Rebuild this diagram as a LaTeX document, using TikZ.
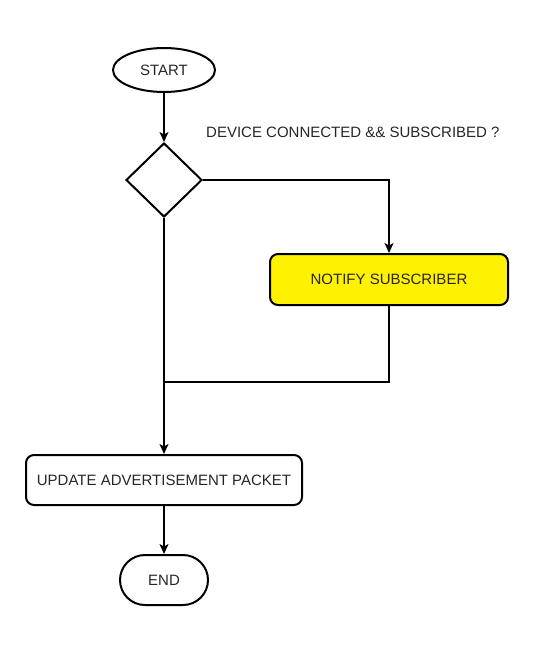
\documentclass[tikz,border=0pt]{standalone}
\usepackage{fontspec}
\setmainfont{Liberation Sans}
\usepackage{tikz}
\usetikzlibrary{shapes.geometric,arrows.meta,positioning,calc}

\begin{document}
\begin{tikzpicture}[
    x=1pt, y=1pt,
    font=\fontsize{15}{18}\selectfont,
    text=black!85,
    >={Stealth[length=10pt,width=9pt,inset=2.5pt]},
    % --- node styles ---
    terminal/.style = {ellipse, draw=black, line width=2pt,
                       inner sep=0pt},
    stadium/.style  = {rectangle, draw=black, line width=2pt,
                       rounded corners=25pt, inner sep=0pt},
    decision/.style = {diamond, draw=black, line width=2pt,
                       inner sep=0pt, minimum width=76pt,
                       minimum height=74pt},
    process/.style  = {rectangle, draw=black, line width=2pt,
                       rounded corners=8pt, inner sep=0pt,
                       minimum height=50pt},
    note/.style     = {inner sep=0pt, anchor=south west},
    arrow/.style    = {->, line width=1.2pt},
    conn/.style     = {line width=1.2pt},
]

\useasboundingbox (0,0) rectangle (537,-655);

%============ START ============
\node (start) [terminal, minimum width=102pt, minimum height=44pt]
  at (164,-70) {START};

%============ DECISION ============
\node (check) [decision, below=49pt of start] {};

\node (question) [note, above right=42pt and 3pt of check.east]
  {DEVICE CONNECTED \&\& SUBSCRIBED ?};

%============ NOTIFY ============
\node (notify) [process, fill=yellow, minimum width=238pt,
                minimum height=51pt, anchor=north west]
  at ($(check.east)+(66,-73)$) {NOTIFY SUBSCRIBER};

%============ UPDATE ============
\node (update) [process, minimum width=276pt, below=236pt of check]
  {UPDATE ADVERTISEMENT PACKET};

%============ END ============
\node (finish) [stadium, minimum width=88pt, minimum height=50pt,
                below=48pt of update] {END};

%============ ARROWS ============
\draw[arrow] (start) -- (check);
\draw[arrow] (check.east) -| (notify.north);
\draw[arrow] (check) -- (update);
\draw[arrow] (update) -- (finish);

% merge back from notify into main flow
\coordinate [below=76pt of notify.south] (join);
\draw[conn] (notify.south) -- (join) -- (join -| check.south);

\end{tikzpicture}
\end{document}
